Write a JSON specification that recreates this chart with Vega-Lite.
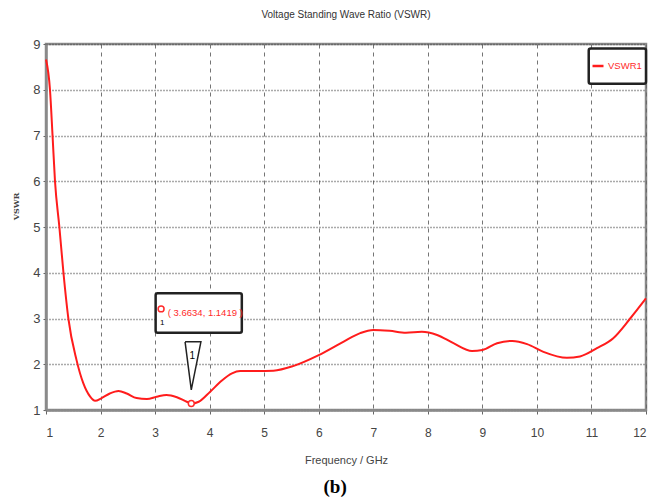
{
  "$schema": "https://vega.github.io/schema/vega-lite/v6.json",
  "width": 600,
  "height": 366,
  "autosize": {"type": "none"},
  "padding": {"left": 46, "top": 44, "right": 11, "bottom": 92},
  "background": "white",
  "title": {
    "text": "Voltage Standing Wave Ratio (VSWR)",
    "fontSize": 10,
    "fontWeight": "normal",
    "color": "#333333",
    "font": "Liberation Sans",
    "anchor": "middle",
    "offset": 18
  },
  "config": {
    "view": {"stroke": "#8a8a8a", "strokeWidth": 2.5},
    "font": "Liberation Sans"
  },
  "datasets": {
    "curve": [
      {"f": 1.0, "v": 8.66, "s": "VSWR1"},
      {"f": 1.073, "v": 8.0, "s": "VSWR1"},
      {"f": 1.12, "v": 7.0, "s": "VSWR1"},
      {"f": 1.165, "v": 6.0, "s": "VSWR1"},
      {"f": 1.245, "v": 5.0, "s": "VSWR1"},
      {"f": 1.32, "v": 4.0, "s": "VSWR1"},
      {"f": 1.41, "v": 3.0, "s": "VSWR1"},
      {"f": 1.56, "v": 2.09, "s": "VSWR1"},
      {"f": 1.685, "v": 1.58, "s": "VSWR1"},
      {"f": 1.81, "v": 1.29, "s": "VSWR1"},
      {"f": 1.9, "v": 1.2, "s": "VSWR1"},
      {"f": 2.02, "v": 1.26, "s": "VSWR1"},
      {"f": 2.17, "v": 1.36, "s": "VSWR1"},
      {"f": 2.33, "v": 1.415, "s": "VSWR1"},
      {"f": 2.48, "v": 1.36, "s": "VSWR1"},
      {"f": 2.66, "v": 1.26, "s": "VSWR1"},
      {"f": 2.85, "v": 1.24, "s": "VSWR1"},
      {"f": 3.03, "v": 1.29, "s": "VSWR1"},
      {"f": 3.21, "v": 1.33, "s": "VSWR1"},
      {"f": 3.4, "v": 1.28, "s": "VSWR1"},
      {"f": 3.58, "v": 1.18, "s": "VSWR1"},
      {"f": 3.6634, "v": 1.1419, "s": "VSWR1"},
      {"f": 3.8, "v": 1.18, "s": "VSWR1"},
      {"f": 4.01, "v": 1.4, "s": "VSWR1"},
      {"f": 4.22, "v": 1.64, "s": "VSWR1"},
      {"f": 4.41, "v": 1.8, "s": "VSWR1"},
      {"f": 4.56, "v": 1.85, "s": "VSWR1"},
      {"f": 4.87, "v": 1.85, "s": "VSWR1"},
      {"f": 5.17, "v": 1.86, "s": "VSWR1"},
      {"f": 5.53, "v": 1.96, "s": "VSWR1"},
      {"f": 6.0, "v": 2.2, "s": "VSWR1"},
      {"f": 6.45, "v": 2.49, "s": "VSWR1"},
      {"f": 6.76, "v": 2.68, "s": "VSWR1"},
      {"f": 7.0, "v": 2.75, "s": "VSWR1"},
      {"f": 7.3, "v": 2.73, "s": "VSWR1"},
      {"f": 7.6, "v": 2.69, "s": "VSWR1"},
      {"f": 7.89, "v": 2.71, "s": "VSWR1"},
      {"f": 8.17, "v": 2.64, "s": "VSWR1"},
      {"f": 8.47, "v": 2.46, "s": "VSWR1"},
      {"f": 8.81, "v": 2.29, "s": "VSWR1"},
      {"f": 9.0, "v": 2.31, "s": "VSWR1"},
      {"f": 9.27, "v": 2.46, "s": "VSWR1"},
      {"f": 9.55, "v": 2.51, "s": "VSWR1"},
      {"f": 9.82, "v": 2.44, "s": "VSWR1"},
      {"f": 10.12, "v": 2.27, "s": "VSWR1"},
      {"f": 10.55, "v": 2.14, "s": "VSWR1"},
      {"f": 10.79, "v": 2.17, "s": "VSWR1"},
      {"f": 11.1, "v": 2.35, "s": "VSWR1"},
      {"f": 11.4, "v": 2.57, "s": "VSWR1"},
      {"f": 11.71, "v": 3.0, "s": "VSWR1"},
      {"f": 12.0, "v": 3.44, "s": "VSWR1"}
    ],
    "boxes": [
      {"x1": 3.01, "x2": 4.59, "y1": 3.55, "y2": 2.69},
      {"x1": 10.95, "x2": 12.0, "y1": 8.9, "y2": 8.13}
    ],
    "tri": [
      {"f": 3.55, "v": 2.49, "o": 1},
      {"f": 3.84, "v": 2.49, "o": 2},
      {"f": 3.6634, "v": 1.44, "o": 3},
      {"f": 3.55, "v": 2.49, "o": 4}
    ],
    "labels": [
      {"f": 3.92, "v": 3.12, "t": "( 3.6634, 1.1419 )", "c": "#ff2a2a", "sz": 9.5},
      {"f": 3.13, "v": 2.9, "t": "1", "c": "black", "sz": 8},
      {"f": 3.68, "v": 2.17, "t": "1", "c": "black", "sz": 10}
    ],
    "markers": [
      {"f": 3.6634, "v": 1.1419},
      {"f": 3.11, "v": 3.21}
    ],
    "caption": [
      {"f": 6.3, "v": -0.68, "t": "(b)"}
    ]
  },
  "layer": [
    {
      "data": {"name": "boxes"},
      "mark": {"type": "rect", "fill": "white", "stroke": "#222222", "strokeWidth": 2.5, "cornerRadius": 2},
      "encoding": {
        "x": {"field": "x1", "type": "quantitative"},
        "x2": {"field": "x2"},
        "y": {"field": "y1", "type": "quantitative"},
        "y2": {"field": "y2"}
      }
    },
    {
      "data": {"name": "curve"},
      "mark": {"type": "line", "interpolate": "monotone", "strokeWidth": 2},
      "encoding": {
        "x": {
          "field": "f",
          "type": "quantitative",
          "scale": {"domain": [1, 12], "nice": false, "zero": false},
          "axis": {
            "title": "Frequency / GHz",
            "values": [1, 2, 3, 4, 5, 6, 7, 8, 9, 10, 11, 12],
            "grid": true,
            "gridDash": [4, 4],
            "gridColor": "#666666",
            "gridOpacity": 0.9,
            "gridWidth": 1,
            "domainColor": "#8a8a8a",
            "domainWidth": 2.5,
            "tickColor": "#666666",
            "tickSize": 4,
            "labelPadding": 13,
            "labelFontSize": 12,
            "labelColor": "#444444",
            "titleFontSize": 11,
            "titleFontWeight": "normal",
            "titleColor": "#444444",
            "titlePadding": 16
          }
        },
        "y": {
          "field": "v",
          "type": "quantitative",
          "scale": {"domain": [1, 9], "nice": false, "zero": false},
          "axis": {
            "title": "VSWR",
            "values": [1, 2, 3, 4, 5, 6, 7, 8, 9],
            "grid": true,
            "gridDash": [1, 2],
            "gridColor": "#444444",
            "gridOpacity": 0.9,
            "gridWidth": 1.5,
            "domainColor": "#8a8a8a",
            "domainWidth": 2.5,
            "tickColor": "#666666",
            "tickSize": 3,
            "labelPadding": 3,
            "labelFontSize": 13,
            "labelColor": "#444444",
            "titleFont": "DejaVu Serif",
            "titleFontSize": 8,
            "titleFontWeight": "bold",
            "titleColor": "#444444",
            "titleX": -26,
            "titleY": 162
          }
        },
        "color": {
          "field": "s",
          "type": "nominal",
          "scale": {"range": ["#ff1c1c"]},
          "legend": {
            "title": null,
            "orient": "none",
            "legendX": 543,
            "legendY": 13,
            "symbolType": "stroke",
            "symbolStrokeWidth": 2.5,
            "symbolSize": 121,
            "labelColor": "#ff2a2a",
            "labelFontSize": 9.5,
            "labelOffset": 3,
            "labelLimit": 200,
            "padding": 2
          }
        }
      }
    },
    {
      "data": {"name": "tri"},
      "mark": {"type": "line", "stroke": "#222222", "strokeWidth": 1.5, "fill": "white", "interpolate": "linear"},
      "encoding": {
        "x": {"field": "f", "type": "quantitative"},
        "y": {"field": "v", "type": "quantitative"},
        "order": {"field": "o"}
      }
    },
    {
      "data": {"name": "markers"},
      "mark": {"type": "point", "shape": "circle", "filled": false, "stroke": "#ff2a2a", "strokeWidth": 1.5, "size": 35, "fill": "white", "fillOpacity": 1},
      "encoding": {
        "x": {"field": "f", "type": "quantitative"},
        "y": {"field": "v", "type": "quantitative"}
      }
    },
    {
      "data": {"name": "labels"},
      "mark": {"type": "text", "baseline": "middle", "align": "center"},
      "encoding": {
        "x": {"field": "f", "type": "quantitative"},
        "y": {"field": "v", "type": "quantitative"},
        "text": {"field": "t"},
        "color": {"field": "c", "type": "nominal", "scale": null},
        "size": {"field": "sz", "type": "quantitative", "scale": null}
      }
    },
    {
      "data": {"name": "caption"},
      "mark": {"type": "text", "font": "Liberation Serif", "fontWeight": "bold", "fontSize": 19, "clip": false, "color": "black", "baseline": "middle", "align": "center"},
      "encoding": {
        "x": {"field": "f", "type": "quantitative"},
        "y": {"field": "v", "type": "quantitative"},
        "text": {"field": "t"}
      }
    }
  ]
}
